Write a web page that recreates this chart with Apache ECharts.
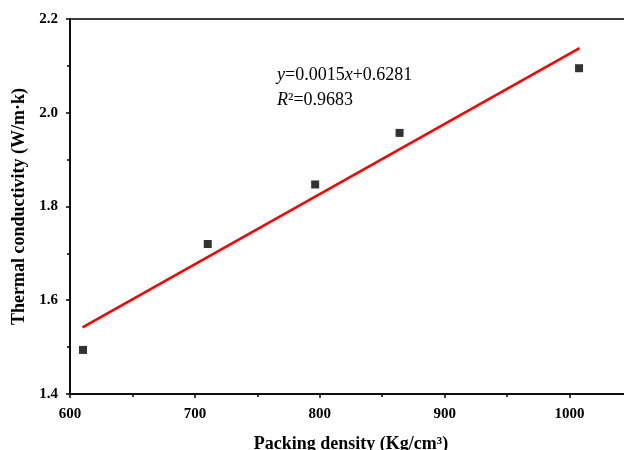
<!DOCTYPE html>
<html>
<head>
<meta charset="utf-8">
<script src="https://cdn.jsdelivr.net/npm/echarts@6/dist/echarts.min.js"></script>
<style>html,body{margin:0;padding:0;background:#fff}#c{width:624px;height:450px}</style>
</head>
<body>
<div id="c"></div>
<script>
var packingDensity = [610.4, 710.3, 796.3, 863.9, 1007.6];
var conductivity = [1.494, 1.720, 1.847, 1.957, 2.095];
var fitX = [610, 1008];
var fitY = [1.542, 2.138];
var xTicks = [600, 700, 800, 900, 1000];
var yTicks = [1.4, 1.6, 1.8, 2.0, 2.2];

var font = '"Liberation Serif", "Times New Roman", serif';
var chart = echarts.init(document.getElementById('c'), null, {renderer: 'canvas'});
chart.setOption({
  animation: false,
  backgroundColor: '#fff',
  grid: {left: 70, top: 19, width: 562, height: 375, containLabel: false, outerBoundsMode: 'none',
    show: true, borderColor: '#000', borderWidth: 1.5, backgroundColor: 'transparent'},
  xAxis: {
    type: 'value', min: 600, max: 1050, interval: 100,
    name: 'Packing density (Kg/cm³)', nameLocation: 'middle', nameGap: 41,
    nameTextStyle: {fontFamily: font, fontWeight: 'bold', fontSize: 18, color: '#000'},
    axisLine: {show: true, lineStyle: {color: '#000', width: 1.5}},
    axisTick: {show: true, inside: false, length: 4, lineStyle: {color: '#000', width: 1.5}},
    minorTick: {show: true, splitNumber: 2, length: 3, lineStyle: {color: '#000', width: 1.5}},
    splitLine: {show: false},
    axisLabel: {fontFamily: font, fontWeight: 'bold', fontSize: 15, color: '#000', margin: 13,
      formatter: function (v) { return xTicks.indexOf(v) >= 0 ? String(v) : ''; }}
  },
  yAxis: {
    type: 'value', min: 1.4, max: 2.2, interval: 0.2,
    name: 'Thermal conductivity (W/m·k)', nameLocation: 'middle', nameGap: 41,
    nameTextStyle: {fontFamily: font, fontWeight: 'bold', fontSize: 18, color: '#000'},
    axisLine: {show: true, lineStyle: {color: '#000', width: 1.5}},
    axisTick: {show: true, inside: false, length: 4, lineStyle: {color: '#000', width: 1.5}},
    minorTick: {show: true, splitNumber: 2, length: 3, lineStyle: {color: '#000', width: 1.5}},
    splitLine: {show: false},
    axisLabel: {fontFamily: font, fontWeight: 'bold', fontSize: 15, color: '#000', margin: 12,
      formatter: function (v) { return v.toFixed(1); }}
  },
  series: [
    {
      type: 'line', data: fitX.map(function (x, i) { return [x, fitY[i]]; }),
      showSymbol: false, symbol: 'none', lineStyle: {color: '#ff0000', width: 2.5}, z: 2
    },
    {
      type: 'scatter', data: packingDensity.map(function (x, i) { return [x, conductivity[i]]; }),
      symbol: 'rect', symbolSize: 8, itemStyle: {color: '#000'}, z: 3
    }
  ],
  graphic: [
    {type: 'text', left: 277, top: 66, style: {
      text: '{i|y}{n|=0.0015}{i|x}{n|+0.6281}',
      rich: {i: {fontFamily: font, fontStyle: 'italic', fontSize: 18, fill: '#000'},
             n: {fontFamily: font, fontSize: 18, fill: '#000'}}}},
    {type: 'text', left: 277, top: 91, style: {
      text: '{i|R}{n|²=0.9683}',
      rich: {i: {fontFamily: font, fontStyle: 'italic', fontSize: 18, fill: '#000'},
             n: {fontFamily: font, fontSize: 18, fill: '#000'}}}}
  ]
});
</script>
</body>
</html>
